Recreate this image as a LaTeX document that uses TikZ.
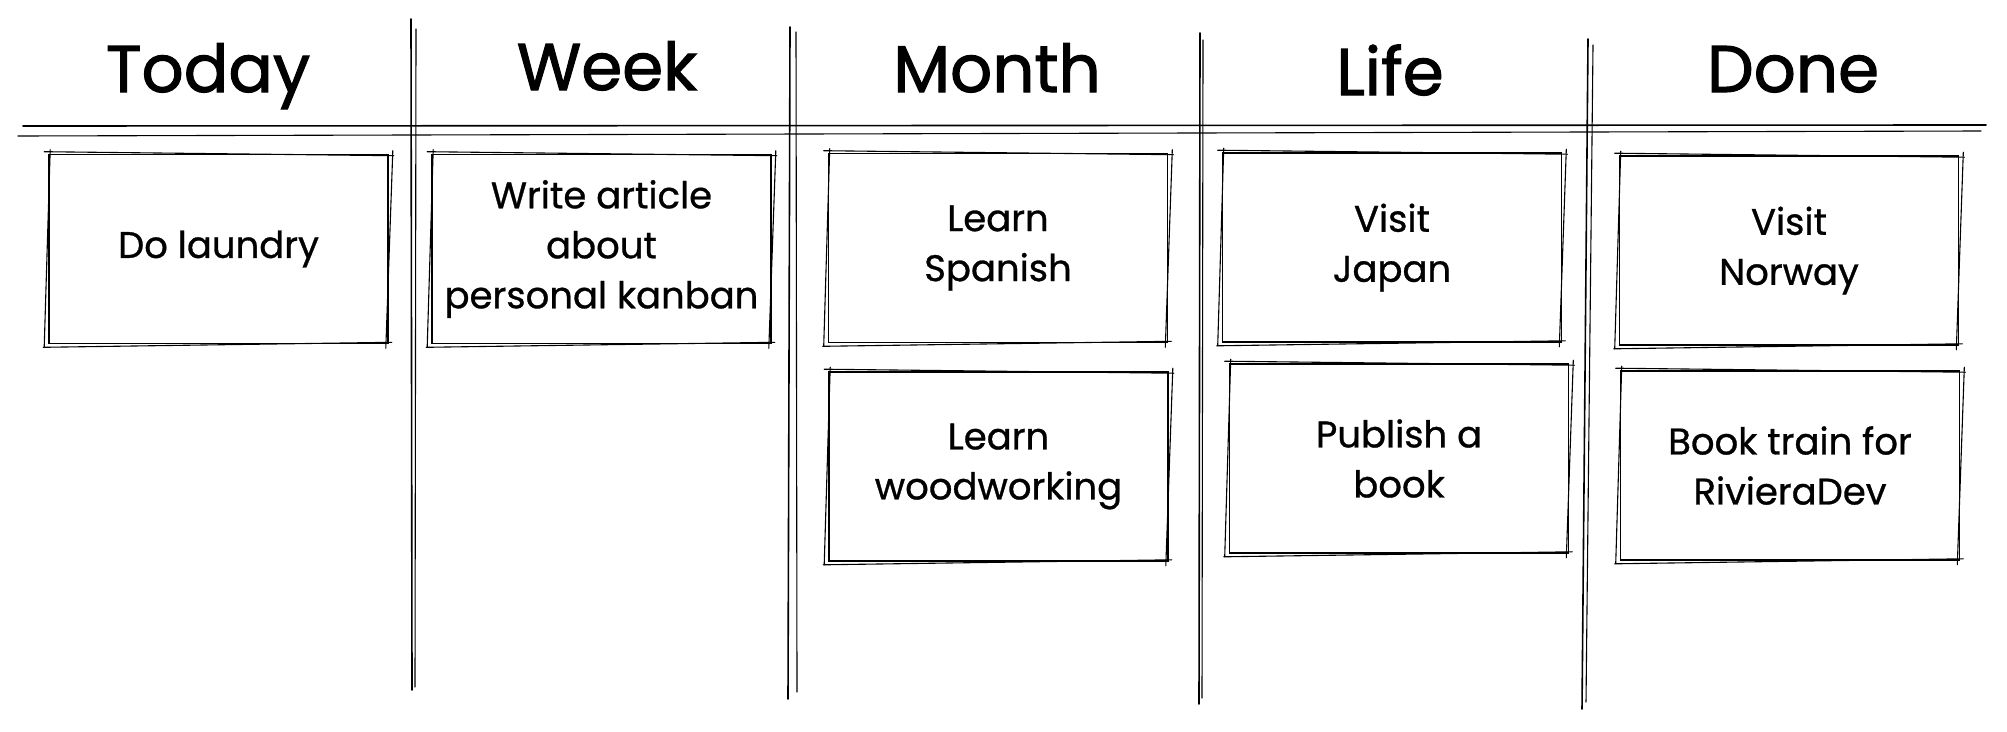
\documentclass[tikz,border=0pt]{standalone}
\usepackage{fontspec}
\setmainfont{Poppins}
\newfontfamily\headfont{Poppins}[FakeBold=1.6]
\newfontfamily\cardfont{Poppins}[FakeBold=0.8]
\tikzset{
  board/.style={line width=1.6pt, line cap=round},
  strand/.style={line width=1.1pt, line cap=round},
  head/.style={anchor=base, inner sep=0pt, font=\headfont\fontsize{66}{66}\selectfont},
  card/.style={draw, line width=1.6pt, minimum width=339pt, minimum height=189pt,
    inner sep=0pt, align=center, font=\cardfont\fontsize{37}{50}\selectfont}
}
\newcommand{\roughbox}[1]{%
  \draw[strand] ([shift={(-4,-2)}]#1.north west) -- ([shift={(5,2)}]#1.north east);
  \draw[strand] ([shift={(4,-3)}]#1.north east) -- ([shift={(-3,4)}]#1.south east);
  \draw[strand] ([shift={(3,-2)}]#1.south east) -- ([shift={(-5,3)}]#1.south west);
  \draw[strand] ([shift={(-4,3)}]#1.south west) -- ([shift={(2,-4)}]#1.north west);
}
\begin{document}
\begin{tikzpicture}[x=1pt,y=-1pt]
\useasboundingbox (0,0) rectangle (2007,731);
% board lines
\draw[board] (23,126) -- (1986,125);
\draw[strand] (18,136) -- (1981,131);
\draw[board] (411,19) -- (412,690);
\draw[strand] (416,29) -- (415,687);
\draw[board] (790,27) -- (788,699);
\draw[strand] (796,32) -- (797,692);
\draw[board] (1200,33) -- (1199,704);
\draw[strand] (1203,40) -- (1202,698);
\draw[board] (1588,39) -- (1582,709);
\draw[strand] (1593,45) -- (1586,702);
% headers
\node[head] (today) at (208,92) {Today};
\node[head] (week) at (607,90) {Week};
\node[head] (month) at (997,92) {Month};
\node[head] (life) at (1390,95) {Life};
\node[head] (done) at (1793,92) {Done};
% cards
\node[card] (laundry) at (218.5,249) {Do laundry};
\node[card] (article) at (601.5,249) {Write article\\about\\personal kanban};
\node[card] (spanish) at (998,248) {Learn\\Spanish};
\node[card] (wood) at (998.5,466.5) {Learn\\woodworking};
\node[card] (japan) at (1392,247.5) {Visit\\Japan};
\node[card] (publish) at (1399,458.5) {Publish a\\book};
\node[card] (norway) at (1789,250.5) {Visit\\Norway};
\node[card] (train) at (1790,465.5) {Book train for\\RivieraDev};
\roughbox{laundry}
\roughbox{article}
\roughbox{spanish}
\roughbox{wood}
\roughbox{japan}
\roughbox{publish}
\roughbox{norway}
\roughbox{train}
\end{tikzpicture}
\end{document}
